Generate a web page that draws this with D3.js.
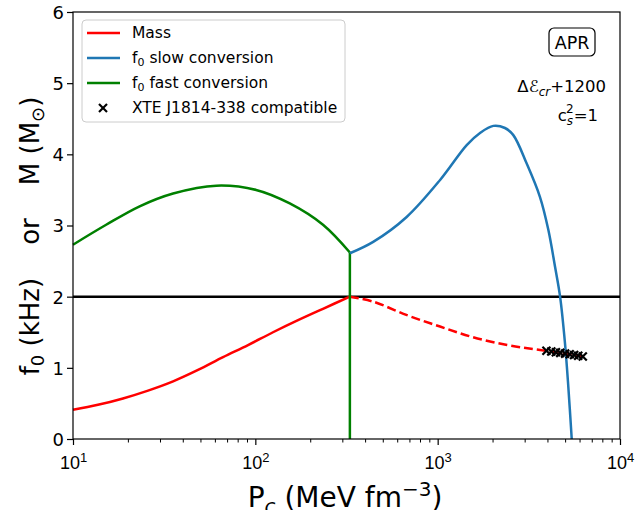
<!DOCTYPE html>
<html>
<body style="margin:0">

<script src="https://d3js.org/d3.v7.min.js"></script>
<style>

body {
    font-family: "DejaVu Sans", sans-serif;
    background: #fff;
}

.tick-label {
    font-size: 18px;
}

</style>

<script>

// mass branch (solid up to the transition, dashed after)
var massP = [10, 13.7, 18.8, 25.8, 35.4, 48.5, 66.5, 91.2, 125, 171.5, 235, 330];
var massM = [0.41, 0.48, 0.57, 0.68, 0.81, 0.97, 1.15, 1.32, 1.50, 1.67, 1.83, 2.0];

var massDashP = [330, 443, 679, 1030, 1563, 2404, 3648, 6280];
var massDashM = [2.0, 1.93, 1.74, 1.58, 1.43, 1.32, 1.25, 1.16];

// f0 fast conversion (green)
var fastP = [10, 15.2, 23.2, 35.4, 61.1, 101, 154.5, 235, 330];
var fastF = [2.73, 3.01, 3.27, 3.45, 3.56, 3.50, 3.31, 3.01, 2.62];

// f0 slow conversion (blue)
var slowP = [330, 443, 676, 1031, 1443, 1707, 2019, 2339, 2600, 3078, 3641, 4045, 4403, 4693, 4994, 5208, 5436];
var slowF = [2.61, 2.77, 3.12, 3.64, 4.13, 4.30, 4.40, 4.37, 4.27, 3.87, 3.40, 2.94, 2.42, 2.0, 1.34, 0.73, 0.0];

// XTE J1814-338 compatible configurations
var xteP = [3950, 4200, 4450, 4700, 5000, 5300, 5600, 5900, 6250];
var xteM = [1.24, 1.23, 1.22, 1.21, 1.20, 1.19, 1.18, 1.17, 1.16];

var transitionP = 330;

var xMajor = [10, 100, 1000, 10000];
var xMajorExp = ["1", "2", "3", "4"];
var yTicks = [0, 1, 2, 3, 4, 5, 6];

var legendNames = ["Mass", "slow", "fast", "XTE J1814-338 compatible"];

var W = 637, H = 510;
var margin = {top: 12, right: 17, bottom: 71, left: 73};

var svg = d3.select("body").append("svg")
    .attr("width", W)
    .attr("height", H);

var x = d3.scaleLog()
    .domain([10, 10000])
    .range([margin.left, W - margin.right]);

var y = d3.scaleLinear()
    .domain([0, 6])
    .range([H - margin.bottom, margin.top]);

var line = d3.line()
    .x(function(d) { return x(d[0]) })
    .y(function(d) { return y(d[1]) })
    .curve(d3.curveCatmullRom.alpha(0.5));

function pairs(a, b) { return a.map(function(v, i) { return [v, b[i]] }) }

var plot = svg.append("g");

// horizontal line at 2
plot.append("line")
    .attr("x1", x(10)).attr("x2", x(10000))
    .attr("y1", y(2)).attr("y2", y(2))
    .attr("stroke", "black").attr("stroke-width", 2.5);

plot.append("path")
    .datum(pairs(massP, massM))
    .attr("d", line)
    .attr("fill", "none").attr("stroke", "red").attr("stroke-width", 2.5);

plot.append("path")
    .datum(pairs(massDashP, massDashM))
    .attr("d", line)
    .attr("fill", "none").attr("stroke", "red").attr("stroke-width", 2.5)
    .attr("stroke-dasharray", "9,4");

plot.append("path")
    .datum(pairs(fastP, fastF))
    .attr("d", line)
    .attr("fill", "none").attr("stroke", "green").attr("stroke-width", 2.5);

// vertical drop of the fast branch at the transition
plot.append("line")
    .attr("x1", x(transitionP)).attr("x2", x(transitionP))
    .attr("y1", y(fastF[fastF.length - 1])).attr("y2", y(0))
    .attr("stroke", "green").attr("stroke-width", 2.5);

plot.append("path")
    .datum(pairs(slowP, slowF))
    .attr("d", line)
    .attr("fill", "none").attr("stroke", "#1f77b4").attr("stroke-width", 2.5);

// x markers
function xMark(g) {
    g.append("line").attr("x1", -4).attr("y1", -4).attr("x2", 4).attr("y2", 4);
    g.append("line").attr("x1", -4).attr("y1", 4).attr("x2", 4).attr("y2", -4);
    g.selectAll("line").attr("stroke", "black").attr("stroke-width", 2.2);
}

plot.selectAll(".xte")
    .data(pairs(xteP, xteM))
  .enter().append("g")
    .attr("class", "xte")
    .attr("transform", function(d) { return "translate(" + x(d[0]) + "," + y(d[1]) + ")" })
    .each(function() { xMark(d3.select(this)) });

// axes
var minor = [];
for (var e = 1; e < 4; e++) {
    for (var k = 2; k < 10; k++) minor.push(k * Math.pow(10, e));
}

var xAxisMinor = d3.axisBottom(x).tickValues(minor).tickSize(3.5).tickFormat("");
var xAxis = d3.axisBottom(x).tickValues(xMajor).tickSize(6).tickFormat("");

svg.append("g")
    .attr("transform", "translate(0," + y(0) + ")")
    .call(xAxisMinor)
    .call(function(g) { g.select(".domain").remove() });

var gx = svg.append("g")
    .attr("transform", "translate(0," + y(0) + ")")
    .call(xAxis);
gx.select(".domain").remove();
gx.selectAll(".tick line").attr("stroke-width", 1.2);

gx.selectAll(".tick").each(function(d, i) {
    var t = d3.select(this).append("text")
        .attr("class", "tick-label")
        .attr("fill", "black")
        .attr("y", 30)
        .attr("text-anchor", "middle");
    t.append("tspan").text("10");
    t.append("tspan").attr("dy", -7).style("font-size", "13px").text(xMajorExp[i]);
});

var yAxis = d3.axisLeft(y).tickValues(yTicks).tickSize(6).tickFormat(d3.format("d"));
var gy = svg.append("g")
    .attr("transform", "translate(" + x(10) + ",0)")
    .call(yAxis);
gy.select(".domain").remove();
gy.selectAll(".tick line").attr("stroke-width", 1.2);
gy.selectAll("text")
    .attr("class", "tick-label")
    .attr("fill", "black")
    .attr("x", -9)
    .attr("dy", "0.36em")
    .style("font-family", "DejaVu Sans")
    .style("font-size", "18px");

// frame
svg.append("rect")
    .attr("x", x(10)).attr("y", y(6))
    .attr("width", x(10000) - x(10))
    .attr("height", y(0) - y(6))
    .attr("fill", "none").attr("stroke", "black").attr("stroke-width", 1.2);

// axis labels
var xl = svg.append("text")
    .attr("x", 345).attr("y", 507)
    .attr("text-anchor", "middle")
    .style("font-size", "28px");
xl.append("tspan").text("P");
xl.append("tspan").attr("dy", 6).style("font-size", "20px").style("font-style", "italic").text("c");
xl.append("tspan").attr("dy", -6).text(" (MeV fm");
xl.append("tspan").attr("dy", -11).style("font-size", "20px").text("\u22123");
xl.append("tspan").attr("dy", 11).text(")");

var yl = svg.append("text")
    .attr("transform", "translate(39,236) rotate(-90)")
    .attr("text-anchor", "middle")
    .style("font-size", "26px")
    .style("white-space", "pre");
yl.append("tspan").text("f");
yl.append("tspan").attr("dy", 5).style("font-size", "18px").text("0");
yl.append("tspan").attr("dy", -5).text(" (kHz)    or    M (M");
yl.append("tspan").attr("dy", 5).style("font-size", "18px").text("\u2299");
yl.append("tspan").attr("dy", -5).text(")");

// legend
var lg = svg.append("g").attr("transform", "translate(82,20)");
lg.append("rect")
    .attr("width", 263).attr("height", 102)
    .attr("rx", 4)
    .attr("fill", "white").attr("fill-opacity", 0.8)
    .attr("stroke", "#cccccc").attr("stroke-width", 1);

var legendColors = ["red", "#1f77b4", "green", null];
legendNames.forEach(function(name, i) {
    var yy = 13 + i * 25;
    if (legendColors[i]) {
        lg.append("line")
            .attr("x1", 5).attr("x2", 38)
            .attr("y1", yy).attr("y2", yy)
            .attr("stroke", legendColors[i]).attr("stroke-width", 2.5);
    } else {
        var m = lg.append("g").attr("transform", "translate(21," + yy + ")");
        xMark(m);
    }
    var t = lg.append("text")
        .attr("x", 50).attr("y", yy + 5)
        .style("font-size", "15.5px");
    if (i == 1 || i == 2) {
        t.append("tspan").text("f");
        t.append("tspan").attr("dy", 3).style("font-size", "11px").text("0");
        t.append("tspan").attr("dy", -3).text(" " + name + " conversion");
    } else {
        t.text(name);
    }
});

// annotation
var ag = svg.append("g");
ag.append("rect")
    .attr("x", 549).attr("y", 28)
    .attr("width", 46).attr("height", 28)
    .attr("rx", 5)
    .attr("fill", "white").attr("stroke", "black").attr("stroke-width", 1.2);
ag.append("text")
    .attr("x", 572).attr("y", 49)
    .attr("text-anchor", "middle")
    .style("font-size", "17.5px")
    .text("APR");

var a2 = ag.append("text")
    .attr("x", 606).attr("y", 92)
    .attr("text-anchor", "end")
    .style("font-size", "16.5px");
a2.append("tspan").text("\u0394");
a2.append("tspan").style("font-style", "italic").text("\u2130");
a2.append("tspan").attr("dy", 4).style("font-size", "12px").style("font-style", "italic").text("cr");
a2.append("tspan").attr("dy", -4).text("+1200");

var a3 = ag.append("text")
    .attr("x", 598).attr("y", 121)
    .attr("text-anchor", "end")
    .style("font-size", "16.5px");
a3.append("tspan").text("c");
a3.append("tspan").attr("dy", 4).style("font-size", "12px").style("font-style", "italic").text("s");
a3.append("tspan").attr("dx", -7).attr("dy", -12).style("font-size", "12px").text("2");
a3.append("tspan").attr("dy", 8).text("=1");

</script>
</body>
</html>
